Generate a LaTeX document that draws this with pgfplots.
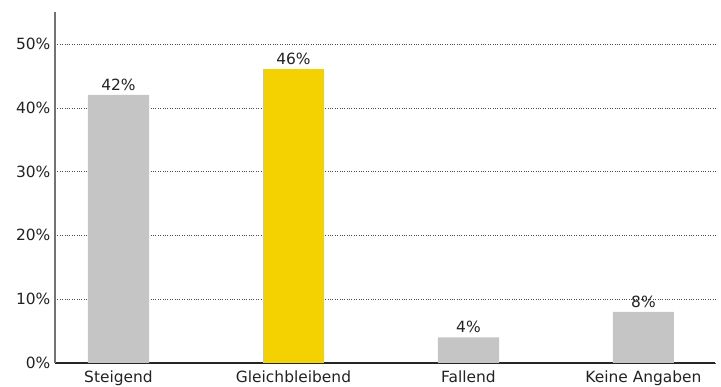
\documentclass[border=0pt]{standalone}
\usepackage{pgfplots}
\pgfplotsset{compat=1.18}
\usepackage{fontspec}
\setmainfont{DejaVu Sans}
\definecolor{bargray}{HTML}{C4C5C4}
\definecolor{baryellow}{HTML}{F4D100}
\definecolor{txt}{HTML}{222222}
\begin{document}
\begin{tikzpicture}
\begin{axis}[
  scale only axis,
  width=660bp, height=351bp,
  xmin=-0.363, xmax=3.409,
  ymin=0, ymax=55,
  axis x line=bottom, axis y line=left,
  axis line style={-},
  x axis line style={black!85, line width=1.2pt},
  y axis line style={black!55, line width=1.5pt},
  xtick={0,1,2,3},
  xticklabels={Steigend,Gleichbleibend,Fallend,Keine Angaben},
  extra x ticks={0.5,1.5,2.5},
  extra x tick labels={},
  extra x tick style={major tick length=8pt, tick style={black, line width=0.6pt}, tick align=center},
  xtick style={draw=none},
  ytick={0,10,20,30,40,50},
  yticklabels={0\%,10\%,20\%,30\%,40\%,50\%},
  ytick style={draw=none},
  ymajorgrids,
  grid style={dotted, black!70, line width=0.4pt},
  /pgf/number format/assume math mode=true,
  tick label style={font=\fontsize{15.5}{15.5}\selectfont, text=txt},
  yticklabel style={xshift=1bp},
  xticklabel style={yshift=-2bp},
  bar width=0.349,
  bar shift=0pt,
  nodes near coords={\pgfmathprintnumber{\pgfplotspointmeta}\%},
  nodes near coords style={font=\fontsize{15.5}{15.5}\selectfont, text=txt, yshift=1bp},
]
\addplot[ybar, fill=bargray, draw=none] coordinates {(0,42) (2,4) (3,8)};
\addplot[ybar, fill=baryellow, draw=none] coordinates {(1,46)};
\end{axis}
\pgfresetboundingbox
\path[use as bounding box] (-55bp,-24bp) rectangle (666bp,363bp);
\end{tikzpicture}
\end{document}
